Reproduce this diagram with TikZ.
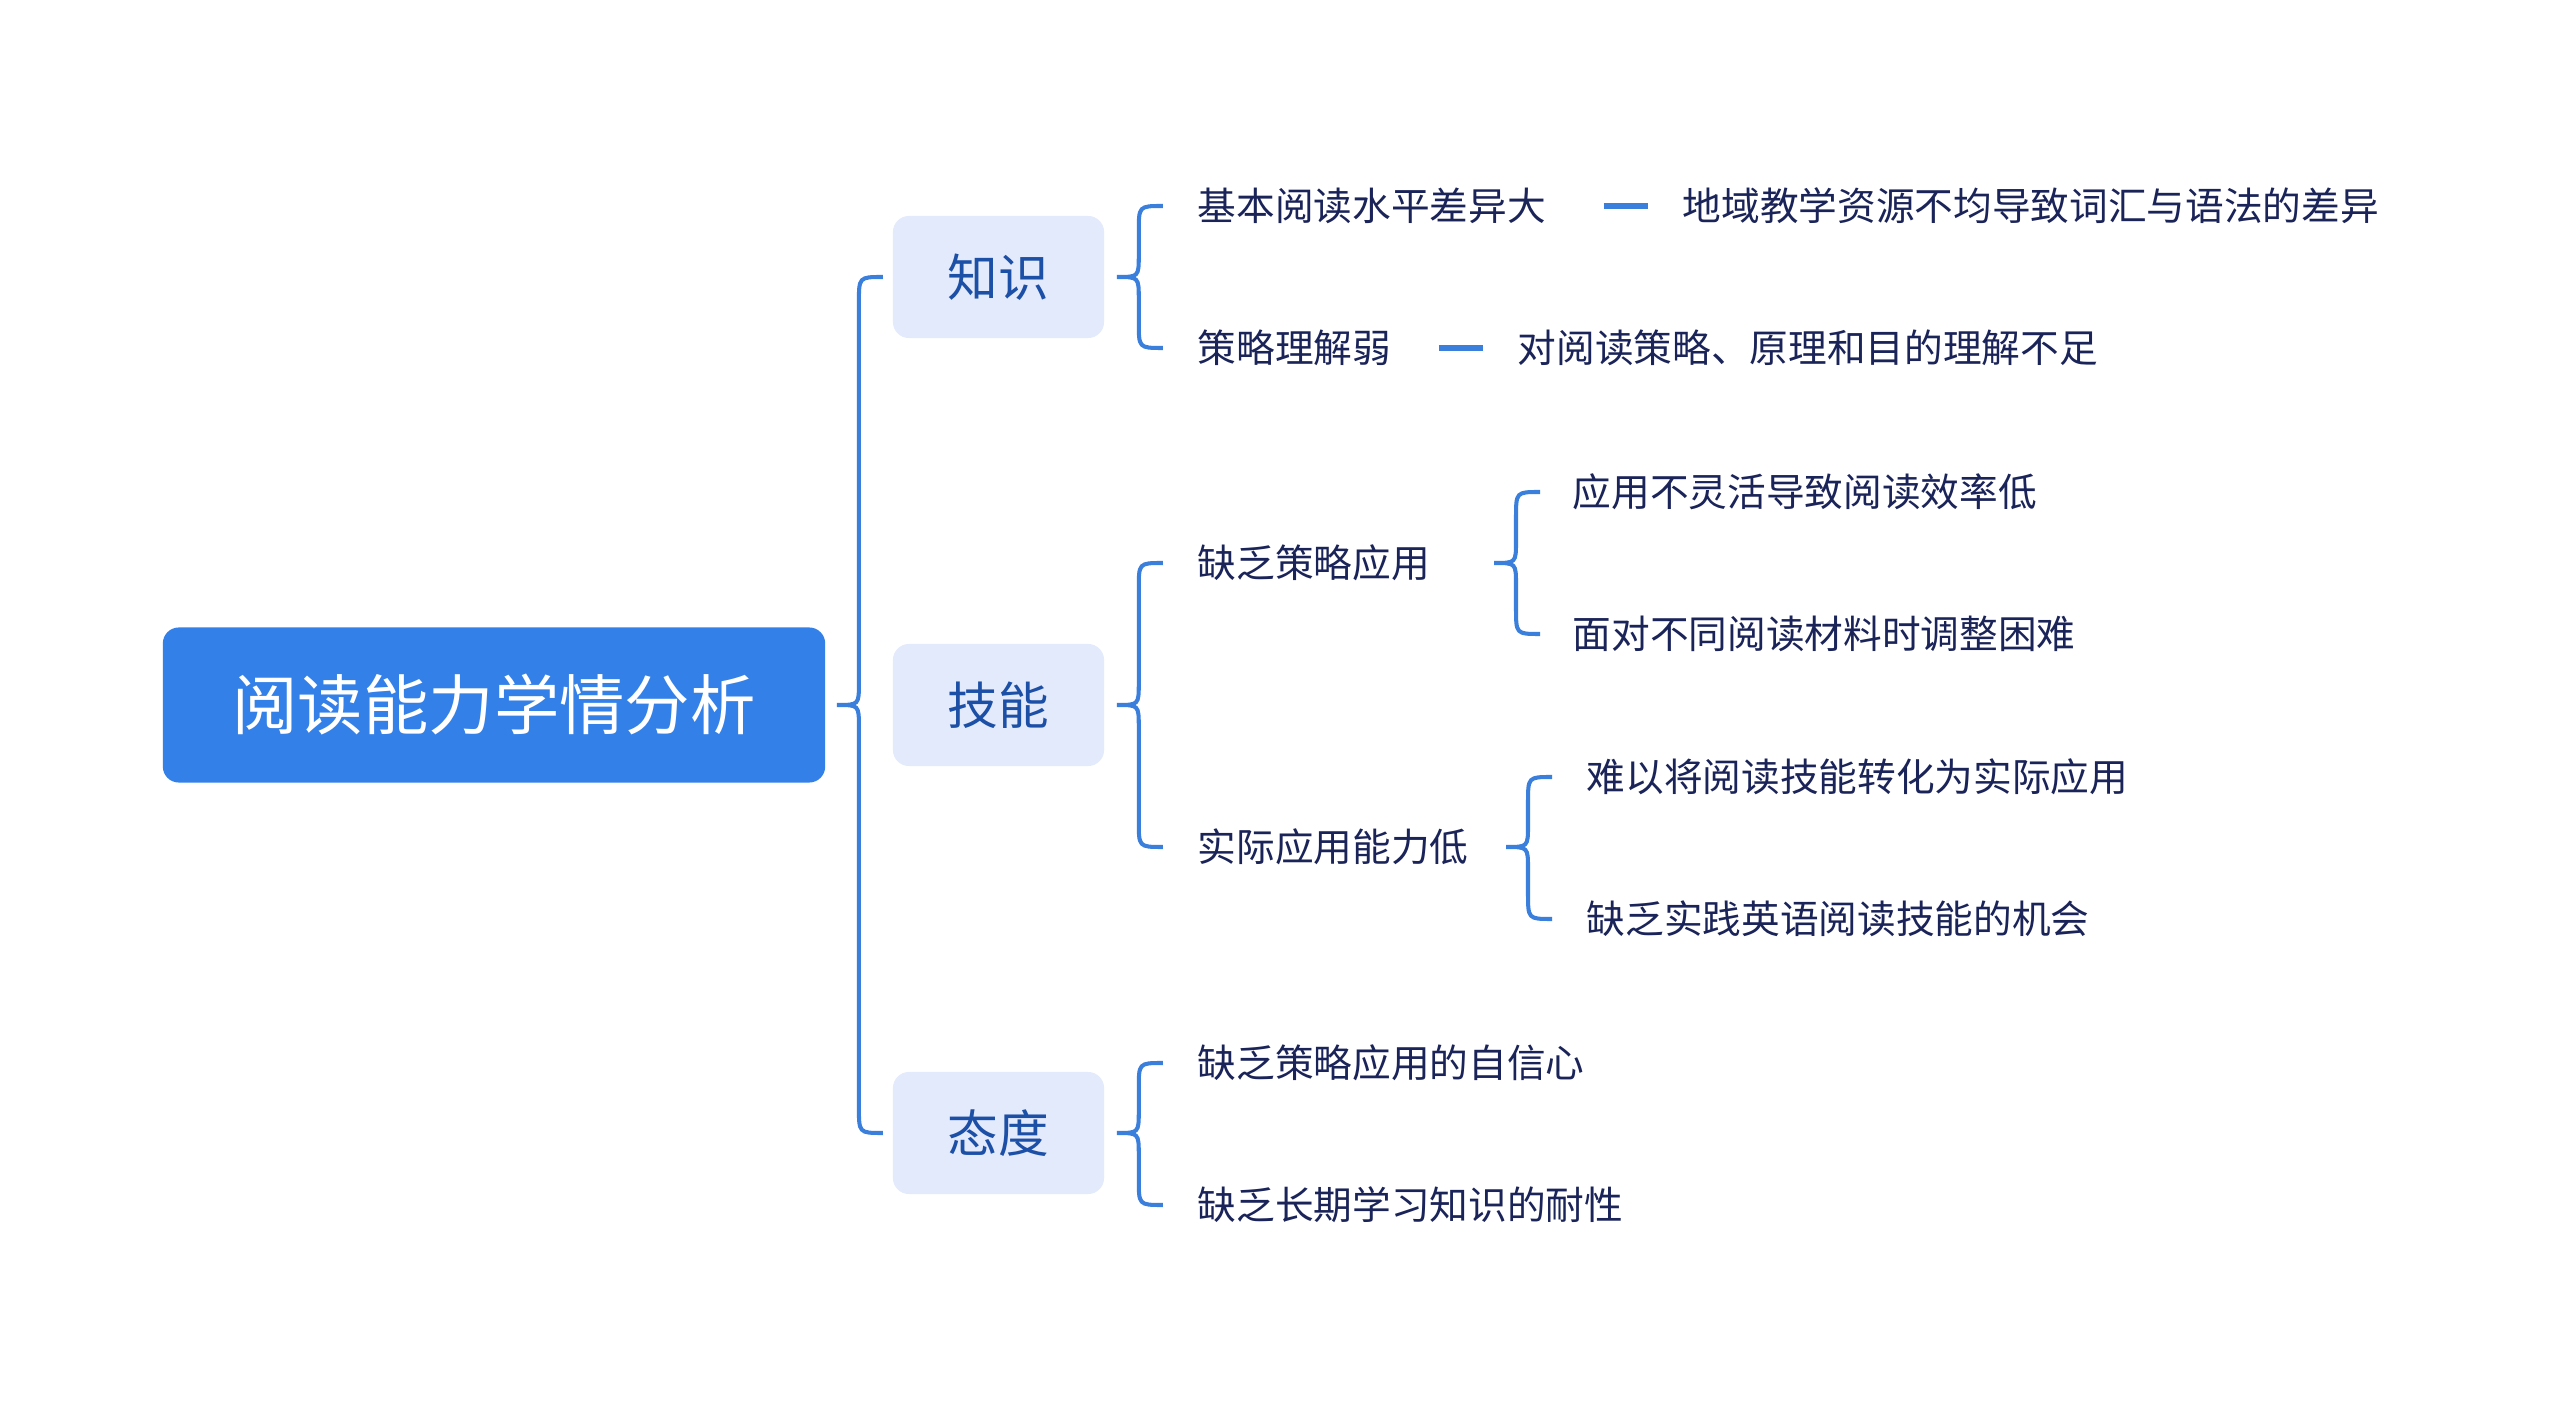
\documentclass[tikz,border=0pt]{standalone}
\usepackage{fontspec}
\setmainfont{Noto Sans CJK SC}
\usetikzlibrary{calc}

\definecolor{rootblue}{HTML}{3381E8}
\definecolor{boxblue}{HTML}{E3EAFB}
\definecolor{linkblue}{HTML}{3A7FDC}
\definecolor{topicblue}{HTML}{1C4FA6}
\definecolor{leafnavy}{HTML}{1B2459}

\tikzset{
    rootnode/.style = {fill = rootblue, text = white, rounded corners = 0.16cm, minimum width = 6.62cm, minimum height = 1.55cm, font = \fontsize{18.6pt}{22pt}\selectfont},
    topicnode/.style = {fill = boxblue, text = topicblue, rounded corners = 0.16cm, minimum width = 2.11cm, minimum height = 1.22cm, font = \fontsize{14.4pt}{17pt}\selectfont},
    leafnode/.style = {anchor = west, inner sep = 0pt, text = leafnavy, font = \fontsize{11pt}{13pt}\selectfont},
    bracelink/.style = {draw = linkblue, line width = 1.15pt},
    dashlink/.style = {draw = linkblue, line width = 1.7pt, shorten >= 0.34cm},
}

\newcommand{\curly}[3]{%
    \draw[bracelink] ($(#1 |- #2)+(46, 0)$) .. controls ($(#1 |- #2)+(22, 0)$) .. ($(#1 |- #2)+(22, 26)$)
        -- ($(#1)+(22, -22)$) .. controls ($(#1)+(22, 0)$) .. (#1)
        .. controls ($(#1)+(22, 0)$) .. ($(#1)+(22, 22)$)
        -- ($(#1 |- #3)+(22, -26)$) .. controls ($(#1 |- #3)+(22, 0)$) .. ($(#1 |- #3)+(46, 0)$);
}

\begin{document}
\begin{tikzpicture}[x = 0.01cm, y = -0.01cm]
    \fill[white] (0, 0) rectangle (2560, 1410);
    \useasboundingbox (0, 0) rectangle (2560, 1410);

    \node[rootnode] (root) at (494, 705) {阅读能力学情分析};
    \node[topicnode] (zs) at (998.5, 277) {知识};
    \node[topicnode] (jn) at (998.5, 705) {技能};
    \node[topicnode] (td) at (998.5, 1133) {态度};

    \node[leafnode] (zs1) at (1197, 206) {基本阅读水平差异大};
    \node[leafnode] (zs2) at (1197, 348) {策略理解弱};
    \node[leafnode] (zs1a) at (1682, 206) {地域教学资源不均导致词汇与语法的差异};
    \node[leafnode] (zs2a) at (1517, 348) {对阅读策略、原理和目的理解不足};

    \node[leafnode] (jn1) at (1197, 563) {缺乏策略应用};
    \node[leafnode] (jn2) at (1197, 847) {实际应用能力低};
    \node[leafnode] (jn1a) at (1572, 492) {应用不灵活导致阅读效率低};
    \node[leafnode] (jn1b) at (1572, 634) {面对不同阅读材料时调整困难};
    \node[leafnode] (jn2a) at (1586, 777) {难以将阅读技能转化为实际应用};
    \node[leafnode] (jn2b) at (1586, 919) {缺乏实践英语阅读技能的机会};

    \node[leafnode] (td1) at (1197, 1063) {缺乏策略应用的自信心};
    \node[leafnode] (td2) at (1197, 1205) {缺乏长期学习知识的耐性};

    \coordinate (t0) at ($(root.east)+(11, 0)$);
    \coordinate (t1) at ($(zs.east)+(12, 0)$);
    \coordinate (t2) at ($(jn.east)+(12, 0)$);
    \coordinate (t3) at ($(td.east)+(12, 0)$);
    \coordinate (t21) at (1494, 563);
    \coordinate (t22) at (1506, 847);

    \curly{t0}{zs}{td}
    \curly{t1}{zs1}{zs2}
    \curly{t2}{jn1}{jn2}
    \curly{t3}{td1}{td2}
    \curly{t21}{jn1a}{jn1b}
    \curly{t22}{jn2a}{jn2b}

    \draw[dashlink, shorten <= 0.57cm] (zs1) -- (zs1a);
    \draw[dashlink, shorten <= 0.47cm] (zs2) -- (zs2a);
\end{tikzpicture}
\end{document}
